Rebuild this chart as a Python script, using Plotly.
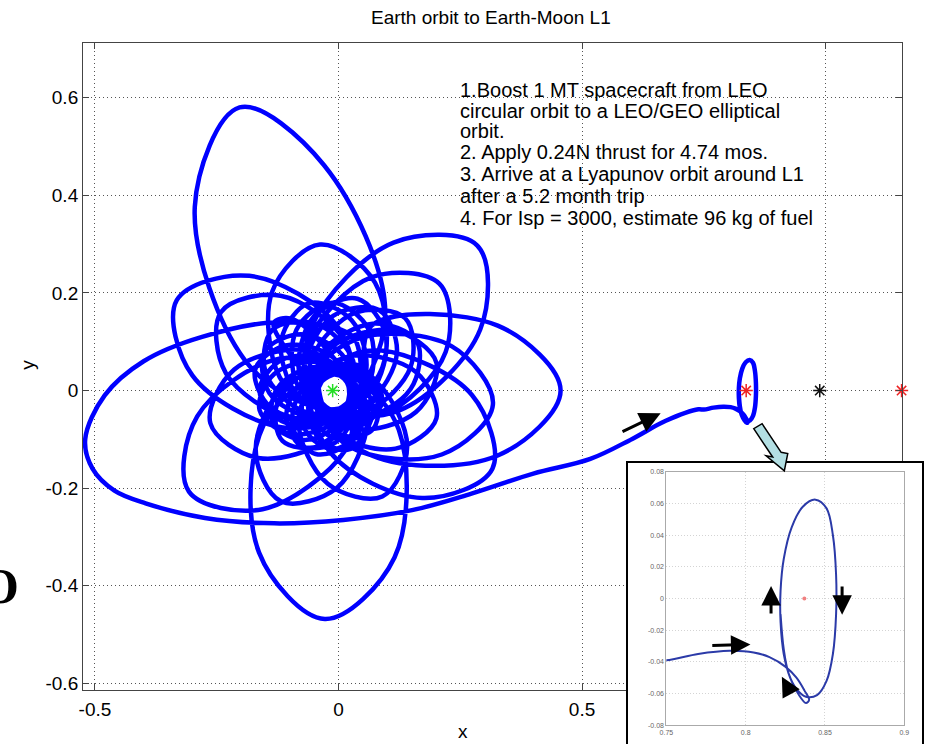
import plotly.graph_objects as go

W, H = 930, 748
# ---------------- data (read / estimated from the picture) ----------------
# inner loops of the spiral (dense core around the Earth)
inner_x = [-0.047, -0.016, 0.047, 0.078, 0.047, -0.016,
           -0.042, -0.039, 0.020, 0.075, 0.071, 0.012,
           -0.030, -0.058, -0.022, 0.043, 0.071, 0.035,
           -0.012, -0.068, -0.068, -0.012, 0.044, 0.044,
           0.006, -0.066, -0.107, -0.077, -0.006, 0.035,
           0.018, -0.050, -0.126, -0.133, -0.065, 0.011,
           0.023, -0.023, -0.116, -0.162, -0.116, -0.023,
           0.023, 0.014, -0.073, -0.151, -0.142, -0.055,
           0.008, 0.044, -0.009, -0.097, -0.133, -0.080,
           -0.012, 0.062, 0.062, -0.012, -0.086, -0.086,
           -0.032, 0.062, 0.120, 0.083, -0.011, -0.069,
           -0.047, 0.044, 0.148, 0.161, 0.070, -0.034]
inner_y = [0.000, -0.049, -0.049, 0.000, 0.049, 0.049,
           0.018, -0.044, -0.077, -0.050, 0.011, 0.045,
           0.030, -0.028, -0.091, -0.095, -0.037, 0.026,
           0.035, -0.004, -0.081, -0.120, -0.081, -0.004,
           0.030, 0.024, -0.048, -0.113, -0.106, -0.035,
           0.018, 0.048, 0.004, -0.070, -0.101, -0.057,
           0.000, 0.063, 0.063, 0.000, -0.063, -0.063,
           -0.020, 0.065, 0.115, 0.080, -0.005, -0.055,
           -0.035, -0.025, 0.066, 0.147, 0.138, 0.047,
           -0.040, 0.015, 0.125, 0.180, 0.125, 0.015,
           -0.035, -0.023, 0.077, 0.165, 0.153, 0.053,
           -0.020, -0.057, 0.003, 0.100, 0.137, 0.077]
# second turn of the core loops
core2_x = [-0.041, -0.021, 0.044, 0.089, 0.069, 0.004,
           -0.033, -0.044, 0.008, 0.069, 0.080, 0.028,
           -0.020, -0.061, -0.041, 0.020, 0.062, 0.042,
           -0.003, -0.071, -0.094, -0.047, 0.022, 0.044,
           0.013, -0.063, -0.126, -0.115, -0.039, 0.025,
           0.022, -0.041, -0.132, -0.162, -0.099, -0.008,
           0.022, -0.010, -0.106, -0.171, -0.140, -0.044,
           0.016, 0.030, -0.047, -0.136, -0.149, -0.073,
           -0.002, 0.056, 0.027, -0.060, -0.117, -0.088,
           -0.022, 0.067, 0.097, 0.039, -0.051, -0.081,
           -0.040, 0.060, 0.148, 0.137, 0.036, -0.052,
           -0.056, 0.031, 0.159, 0.201, 0.114, -0.014]
core2_y = [0.008, -0.048, -0.065, -0.027, 0.028, 0.046,
           0.021, -0.040, -0.092, -0.081, -0.020, 0.032,
           0.029, -0.022, -0.097, -0.121, -0.070, 0.005,
           0.034, 0.008, -0.074, -0.130, -0.105, -0.023,
           0.025, 0.037, -0.027, -0.103, -0.114, -0.051,
           0.009, 0.058, 0.034, -0.040, -0.089, -0.065,
           -0.009, 0.067, 0.093, 0.043, -0.034, -0.060,
           -0.028, 0.061, 0.137, 0.124, 0.035, -0.042,
           -0.039, 0.035, 0.144, 0.179, 0.105, -0.004,
           -0.039, -0.002, 0.112, 0.188, 0.151, 0.038,
           -0.028, -0.040, 0.048, 0.148, 0.160, 0.072,
           -0.012, -0.078, -0.044, 0.057, 0.123, 0.089]
# middle ring of loops
ring_x = [-0.051, -0.009, 0.117, 0.201, 0.159, 0.033,
          -0.031, -0.082, -0.022, 0.090, 0.141, 0.081,
          0.007, -0.107, -0.170, -0.118, -0.003, 0.059,
          0.031, -0.066, -0.214, -0.263, -0.165, -0.018,
          0.025, 0.014, -0.119, -0.241, -0.231, -0.098,
          -0.008, 0.090, 0.075, -0.038, -0.136, -0.121,
          -0.047, 0.092, 0.220, 0.207, 0.067, -0.060,
          -0.062, 0.023, 0.212, 0.317, 0.232, 0.043]
ring_y = [0.010, -0.085, -0.119, -0.057, 0.038, 0.072,
          0.041, -0.062, -0.191, -0.217, -0.115, 0.014,
          0.041, 0.013, -0.121, -0.227, -0.199, -0.065,
          0.012, 0.082, 0.043, -0.067, -0.138, -0.099,
          -0.026, 0.100, 0.194, 0.161, 0.035, -0.059,
          -0.050, 0.047, 0.221, 0.299, 0.203, 0.028,
          -0.035, -0.048, 0.079, 0.219, 0.232, 0.104,
          0.004, -0.115, -0.131, -0.029, 0.091, 0.107]
# large outer petals
outer_x = [-0.057, -0.015, 0.172, 0.316, 0.274, 0.088,
           -0.010, -0.154, -0.163, -0.028, 0.115, 0.124,
           0.029, -0.122, -0.290, -0.307, -0.156, 0.012,
           0.031, -0.001, -0.183, -0.332, -0.300, -0.118,
           0.004, 0.096, -0.030, -0.203, -0.295, -0.192,
           -0.047, 0.124, 0.291, 0.285, 0.113, -0.053,
           -0.062, 0.068, 0.327, 0.456, 0.327, 0.068]
outer_y = [0.022, -0.129, -0.220, -0.160, -0.009, 0.082,
           0.055, -0.071, -0.332, -0.468, -0.342, -0.081,
           0.029, 0.065, -0.053, -0.207, -0.243, -0.125,
           -0.025, 0.130, 0.235, 0.185, 0.031, -0.075,
           -0.048, 0.157, 0.462, 0.580, 0.376, 0.062,
           -0.035, -0.041, 0.125, 0.297, 0.303, 0.136,
           0.000, -0.133, -0.133, 0.000, 0.133, 0.133]
# last big loop to the left
last_x = [0.050, 0.030, -0.120, -0.280, -0.400, -0.480, -0.520]
last_y = [0.010, 0.110, 0.140, 0.110, 0.060, -0.010, -0.100]
# escape leg towards L1
escape_x = [-0.505, -0.460, -0.396, -0.274, -0.132, 0.010, 0.151, 0.273, 0.400, 0.517, 0.603, 0.672, 0.739]
escape_y = [-0.160, -0.205, -0.231, -0.261, -0.272, -0.265, -0.245, -0.211, -0.170, -0.140, -0.099, -0.062, -0.0385]
# arrival and Lyapunov orbit around L1
l1_x = [0.75, 0.77, 0.79, 0.805, 0.815, 0.825, 0.832, 0.837, 0.840, 0.838, 0.833, 0.828, 0.824, 0.822, 0.822, 0.824,
        0.829, 0.836, 0.844, 0.851, 0.855, 0.857, 0.857, 0.855, 0.851, 0.845, 0.838, 0.832, 0.827, 0.824, 0.822]
l1_y = [-0.039, -0.035, -0.033, -0.034, -0.037, -0.043, -0.050, -0.058, -0.064, -0.066, -0.060, -0.050, -0.035, -0.015,
        0.005, 0.025, 0.045, 0.058, 0.0625, 0.057, 0.040, 0.015, -0.010, -0.035, -0.052, -0.061, -0.062, -0.057, -0.047,
        -0.032, -0.010]

# Earth, L1, Moon, L2
bodies_x = [-0.012, 0.837, 0.988, 1.156]
bodies_y = [0, 0, 0, 0]
bodies_color = ["#22dd22", "#ee2222", "#111111", "#ee2222"]

note_lines = ["1.Boost 1 MT spacecraft from LEO", "circular orbit to a LEO/GEO elliptical", "orbit.",
              "2. Apply 0.24N thrust for 4.74 mos.", "3. Arrive at a Lyapunov orbit around L1",
              "after a 5.2 month trip", "4. For Isp = 3000, estimate 96 kg of fuel"]

main_xticks = [-0.5, 0, 0.5, 1.0]
main_xtext = ["-0.5", "0", "0.5", "1"]
main_yticks = [-0.6, -0.4, -0.2, 0, 0.2, 0.4, 0.6]
main_ytext = ["-0.6", "-0.4", "-0.2", "0", "0.2", "0.4", "0.6"]
ins_xticks = [0.75, 0.8, 0.85, 0.9]
ins_xtext = ["0.75", "0.8", "0.85", "0.9"]
ins_yticks = [-0.08, -0.06, -0.04, -0.02, 0, 0.02, 0.04, 0.06, 0.08]
ins_ytext = ["-0.08", "-0.06", "-0.04", "-0.02", "0", "0.02", "0.04", "0.06", "0.08"]

path_x = inner_x + core2_x + ring_x + outer_x + last_x + escape_x + l1_x
path_y = inner_y + core2_y + ring_y + outer_y + last_y + escape_y + l1_y

# ---------------- layout geometry (pixels) ----------------
L, R, T, B = 77, 907, 39, 693
def fx(p): return p / W
def fy(p): return 1 - p / H

fig = go.Figure()
fig.add_trace(go.Scatter(x=path_x, y=path_y, mode="lines",
                         line=dict(color="#0000ff", width=4.5, shape="spline", smoothing=1.0),
                         xaxis="x", yaxis="y", hoverinfo="skip"))
fig.add_trace(go.Scatter(x=bodies_x, y=bodies_y, mode="markers", cliponaxis=False,
                         marker=dict(symbol="asterisk-open", size=11, color=bodies_color,
                                     line=dict(color=bodies_color, width=1.5)),
                         xaxis="x", yaxis="y", hoverinfo="skip"))
# inset
fig.add_trace(go.Scatter(x=escape_x[-3:] + l1_x, y=escape_y[-3:] + l1_y, mode="lines",
                         line=dict(color="#2b3aa8", width=2, shape="spline", smoothing=1.0),
                         xaxis="x3", yaxis="y3", hoverinfo="skip"))
fig.add_trace(go.Scatter(x=[bodies_x[1]], y=[bodies_y[1]], mode="markers", marker=dict(color="#f08080", size=4),
                         xaxis="x3", yaxis="y3", hoverinfo="skip"))

axfont = dict(family="Liberation Sans, Arial", size=19, color="#000")
grid = dict(showgrid=True, gridcolor="#555", gridwidth=1, griddash="1px,3px", zeroline=False,
            showline=True, linecolor="#444", linewidth=1, mirror="ticks", ticks="inside", ticklen=6,
            tickcolor="#444", tickfont=axfont)
insfont = dict(family="Liberation Sans", size=7, color="#666")
fig.update_layout(
    width=W, height=H, margin=dict(l=0, r=0, t=0, b=0), paper_bgcolor="white", plot_bgcolor="white",
    showlegend=False,
    xaxis=dict(domain=[fx(L), fx(R)], range=[-0.5245, 1.1575], tickvals=main_xticks, ticktext=main_xtext,
               anchor="y", ticklabelstandoff=3, **grid),
    yaxis=dict(domain=[fy(B), fy(T)], range=[-0.6125, 0.7127], tickvals=main_yticks, ticktext=main_ytext,
               anchor="x", **grid),
    xaxis2=dict(domain=[fx(629), fx(927)], range=[0, 1], anchor="y2", showgrid=False, zeroline=False,
                showticklabels=False, showline=True, linecolor="#000", linewidth=2, side="top"),
    yaxis2=dict(domain=[0, fy(464)], range=[0, 1], anchor="x2", showgrid=False, zeroline=False,
                showticklabels=False, showline=True, linecolor="#000", linewidth=2, mirror=True),
    xaxis3=dict(domain=[fx(668), fx(909)], range=[0.75, 0.9], anchor="y3", tickvals=ins_xticks, ticktext=ins_xtext,
                showgrid=True, gridcolor="#d4d4d4", griddash="1px,2px", zeroline=False, showline=True,
                linecolor="#aaa", linewidth=1, mirror=True, ticks="", tickfont=insfont),
    yaxis3=dict(domain=[fy(729), fy(473)], range=[-0.08, 0.08], anchor="x3", tickvals=ins_yticks, ticktext=ins_ytext,
                showgrid=True, gridcolor="#d4d4d4", griddash="1px,2px", zeroline=False, showline=True,
                linecolor="#aaa", linewidth=1, mirror=True, ticks="", tickfont=insfont),
)

shapes = [dict(type="rect", xref="x2", yref="y2", x0=0, x1=1, y0=0, y1=1, fillcolor="white",
               line=dict(width=0), layer="between")]
# light blue pointer arrow (main-axes data coords)
arrow_pts = [(0.8525, -0.0780), (0.8914, -0.1362), (0.8779, -0.1337), (0.9153, -0.1646),
             (0.9223, -0.1292), (0.9088, -0.1266), (0.8697, -0.0679)]
path = "M " + " L ".join(f"{a},{b}" for a, b in arrow_pts) + " Z"
shapes.append(dict(type="path", xref="x", yref="y", path=path, fillcolor="#b3dfe3",
                   line=dict(color="#000", width=1.5), layer="above"))
fig.update_layout(shapes=shapes)

ann = []
ann.append(dict(text="Earth orbit to Earth-Moon L1", xref="paper", yref="paper", x=fx(490), y=fy(14), showarrow=False,
                font=dict(family="Liberation Sans Narrow, Liberation Sans", size=19, color="#000"),
                xanchor="center", yanchor="middle"))
ann.append(dict(text="x", xref="paper", yref="paper", x=fx(462), y=fy(735), showarrow=False, font=axfont,
                xanchor="center", yanchor="middle"))
ann.append(dict(text="y", xref="paper", yref="paper", x=fx(20), y=fy(365), showarrow=False, font=axfont,
                textangle=-90, xanchor="center", yanchor="middle"))
ann.append(dict(text="<b>O</b>", xref="paper", yref="paper", x=fx(-8), y=fy(588), showarrow=False,
                font=dict(family="Liberation Serif", size=50, color="#000"), xanchor="center", yanchor="middle"))
line_y = [86.7, 108, 128.5, 150, 171.7, 194, 216.5]
for t, yy in zip(note_lines, line_y):
    ann.append(dict(text=t, xref="paper", yref="paper", x=fx(457), y=fy(yy), showarrow=False,
                    xanchor="left", yanchor="middle", font=dict(family="Liberation Sans, Arial", size=20, color="#000")))
# main black arrow
ann.append(dict(text="", x=0.6614, y=-0.0466, ax=0.580, ay=-0.0857, xref="x", yref="y", axref="x", ayref="y",
                showarrow=True, arrowhead=2, arrowsize=1.4, arrowwidth=3, arrowcolor="#000"))
# inset arrows
for (hx, hy, tx, ty) in [(0.803, -0.029, 0.778, -0.0296), (0.816, 0.0079, 0.816, -0.0104),
                         (0.8608, -0.0102, 0.8608, 0.0086), (0.8228, -0.0494, 0.829, -0.0608)]:
    ann.append(dict(text="", x=hx, y=hy, ax=tx, ay=ty, xref="x3", yref="y3", axref="x3", ayref="y3",
                    showarrow=True, arrowhead=2, arrowsize=1.3, arrowwidth=3, arrowcolor="#000"))
fig.update_layout(annotations=ann)

fig.write_html("out.html")
